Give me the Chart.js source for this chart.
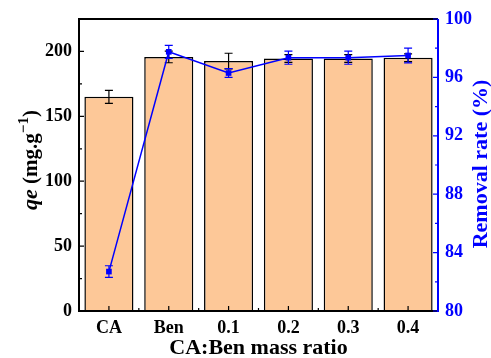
<!DOCTYPE html>
<html>
<head>
<meta charset="utf-8">
<script src="https://cdn.jsdelivr.net/npm/chart.js@4"></script>
<style>
  body { margin: 0; background: #fff; }
  #wrap { width: 491px; height: 358px; }
</style>
</head>
<body>
<div id="wrap"><canvas id="chart"></canvas></div>
<script>
// data
const categories = ['CA', 'Ben', '0.1', '0.2', '0.3', '0.4'];
const qeValues = [165, 195.8, 192.6, 194.6, 194.6, 195.2];
const qeErrors = [5, 4.5, 6, 3, 3, 3];
const removalRate = [82.7, 97.75, 96.3, 97.35, 97.35, 97.5];
const removalErrors = [0.4, 0.45, 0.3, 0.45, 0.45, 0.5];
const leftTicks = [0, 50, 100, 150, 200];
const rightTicks = [80, 84, 88, 92, 96, 100];

const FONT = '"Liberation Serif", "Times New Roman", serif';
const BLUE = '#0000ff';

// inward ticks, frame, axis titles, error bars
const decorations = {
  id: 'decorations',
  afterDatasetDraw(chart, args) {
    const ctx = chart.ctx;
    const x = chart.scales.x;
    if (args.index === 0) {
      const y = chart.scales.y;
      ctx.save();
      ctx.strokeStyle = '#000';
      ctx.lineWidth = 1.2;
      qeValues.forEach((v, i) => {
        const px = x.getPixelForValue(i);
        const top = y.getPixelForValue(v + qeErrors[i]);
        const bot = y.getPixelForValue(v - qeErrors[i]);
        ctx.beginPath();
        ctx.moveTo(px, top); ctx.lineTo(px, bot);
        ctx.moveTo(px - 4, top); ctx.lineTo(px + 4, top);
        ctx.moveTo(px - 4, bot); ctx.lineTo(px + 4, bot);
        ctx.stroke();
      });
      ctx.restore();
    } else {
      const y1 = chart.scales.y1;
      ctx.save();
      ctx.strokeStyle = BLUE;
      ctx.lineWidth = 1.2;
      removalRate.forEach((v, i) => {
        const px = x.getPixelForValue(i);
        const top = y1.getPixelForValue(v + removalErrors[i]);
        const bot = y1.getPixelForValue(v - removalErrors[i]);
        ctx.beginPath();
        ctx.moveTo(px, top); ctx.lineTo(px, bot);
        ctx.moveTo(px - 4, top); ctx.lineTo(px + 4, top);
        ctx.moveTo(px - 4, bot); ctx.lineTo(px + 4, bot);
        ctx.stroke();
      });
      ctx.restore();
    }
  },
  afterDraw(chart) {
    const ctx = chart.ctx;
    const a = chart.chartArea;
    const x = chart.scales.x, y = chart.scales.y, y1 = chart.scales.y1;
    ctx.save();
    // frame
    ctx.lineWidth = 2;
    ctx.strokeStyle = '#000';
    ctx.beginPath();
    ctx.moveTo(a.right, a.top); ctx.lineTo(a.left, a.top);
    ctx.lineTo(a.left, a.bottom); ctx.lineTo(a.right, a.bottom);
    ctx.stroke();
    ctx.strokeStyle = BLUE;
    ctx.beginPath();
    ctx.moveTo(a.right, a.top); ctx.lineTo(a.right, a.bottom + 1);
    ctx.stroke();

    // left ticks (major + minor), pointing inward
    ctx.lineWidth = 1.2;
    ctx.strokeStyle = '#000';
    ctx.beginPath();
    leftTicks.forEach(t => {
      const py = y.getPixelForValue(t);
      ctx.moveTo(a.left, py); ctx.lineTo(a.left + 5, py);
      const pm = y.getPixelForValue(t + 25);
      if (pm > a.top + 2) { ctx.moveTo(a.left, pm); ctx.lineTo(a.left + 3, pm); }
    });
    // bottom ticks at centres, minor at boundaries
    categories.forEach((c, i) => {
      const px = x.getPixelForValue(i);
      ctx.moveTo(px, a.bottom); ctx.lineTo(px, a.bottom - 5);
      if (i > 0) {
        const pb = (px + x.getPixelForValue(i - 1)) / 2;
        ctx.moveTo(pb, a.bottom); ctx.lineTo(pb, a.bottom - 3);
      }
    });
    ctx.stroke();
    // right ticks
    ctx.strokeStyle = BLUE;
    ctx.beginPath();
    rightTicks.forEach(t => {
      const py = y1.getPixelForValue(t);
      ctx.moveTo(a.right, py); ctx.lineTo(a.right - 5, py);
      const pm = y1.getPixelForValue(t + 2);
      if (pm > a.top + 2) { ctx.moveTo(a.right, pm); ctx.lineTo(a.right - 3, pm); }
    });
    ctx.stroke();

    // x title
    ctx.fillStyle = '#000';
    ctx.font = 'bold 22px ' + FONT;
    ctx.textAlign = 'center';
    ctx.textBaseline = 'middle';
    ctx.fillText('CA:Ben mass ratio', (a.left + a.right) / 2, 348);

    // right title
    ctx.save();
    ctx.translate(481, 164);
    ctx.rotate(-Math.PI / 2);
    ctx.fillStyle = BLUE;
    ctx.font = 'bold 22px ' + FONT;
    ctx.fillText('Removal rate (%)', 0, 0);
    ctx.restore();

    // left title with italic qe and superscript
    ctx.save();
    ctx.translate(30, 160);
    ctx.rotate(-Math.PI / 2);
    ctx.textAlign = 'left';
    ctx.textBaseline = 'alphabetic';
    const parts = [
      { t: 'qe', f: 'italic bold 22px ' + FONT, dy: 0 },
      { t: ' (mg.g', f: 'bold 21px ' + FONT, dy: 0 },
      { t: '\u22121', f: 'bold 15px ' + FONT, dy: -9 },
      { t: ')', f: 'bold 21px ' + FONT, dy: 0 }
    ];
    let total = 0;
    parts.forEach(p => { ctx.font = p.f; p.w = ctx.measureText(p.t).width; total += p.w; });
    let cx = -total / 2;
    parts.forEach(p => {
      ctx.font = p.f;
      ctx.fillText(p.t, cx, 7 + p.dy);
      cx += p.w;
    });
    ctx.restore();
    ctx.restore();
  }
};

new Chart(document.getElementById('chart').getContext('2d'), {
  data: {
    labels: categories,
    datasets: [
      {
        type: 'bar',
        label: 'qe',
        data: qeValues,
        yAxisID: 'y',
        backgroundColor: '#fdc898',
        borderColor: '#000',
        borderWidth: 1.5,
        borderSkipped: 'bottom',
        barPercentage: 0.82,
        categoryPercentage: 1,
        order: 1
      },
      {
        type: 'line',
        label: 'Removal rate',
        data: removalRate,
        yAxisID: 'y1',
        borderColor: BLUE,
        borderWidth: 1.5,
        backgroundColor: BLUE,
        pointStyle: 'rect',
        pointRadius: 4,
        pointBorderWidth: 0,
        tension: 0,
        order: 0
      }
    ]
  },
  options: {
    responsive: true,
    maintainAspectRatio: false,
    animation: false,
    layout: { padding: { top: 19, left: 0, right: 0, bottom: 0 } },
    plugins: { legend: { display: false }, tooltip: { enabled: false } },
    scales: {
      x: {
        offset: true,
        grid: { display: false, drawTicks: false },
        border: { display: false },
        ticks: { color: '#000', font: { family: FONT, size: 18, weight: 'bold' }, padding: 7 },
        afterFit: s => { s.height = 47; }
      },
      y: {
        position: 'left',
        min: 0, max: 225,
        grid: { display: false, drawTicks: false },
        border: { display: false },
        ticks: { stepSize: 50, includeBounds: false, color: '#000', font: { family: FONT, size: 18, weight: 'bold' }, padding: 7 },
        afterFit: s => { s.width = 79; }
      },
      y1: {
        position: 'right',
        min: 80, max: 100,
        grid: { display: false, drawTicks: false },
        border: { display: false },
        ticks: { stepSize: 4, color: BLUE, font: { family: FONT, size: 18, weight: 'bold' }, padding: 7 },
        afterFit: s => { s.width = 53; }
      }
    }
  },
  plugins: [decorations]
});
</script>
</body>
</html>
